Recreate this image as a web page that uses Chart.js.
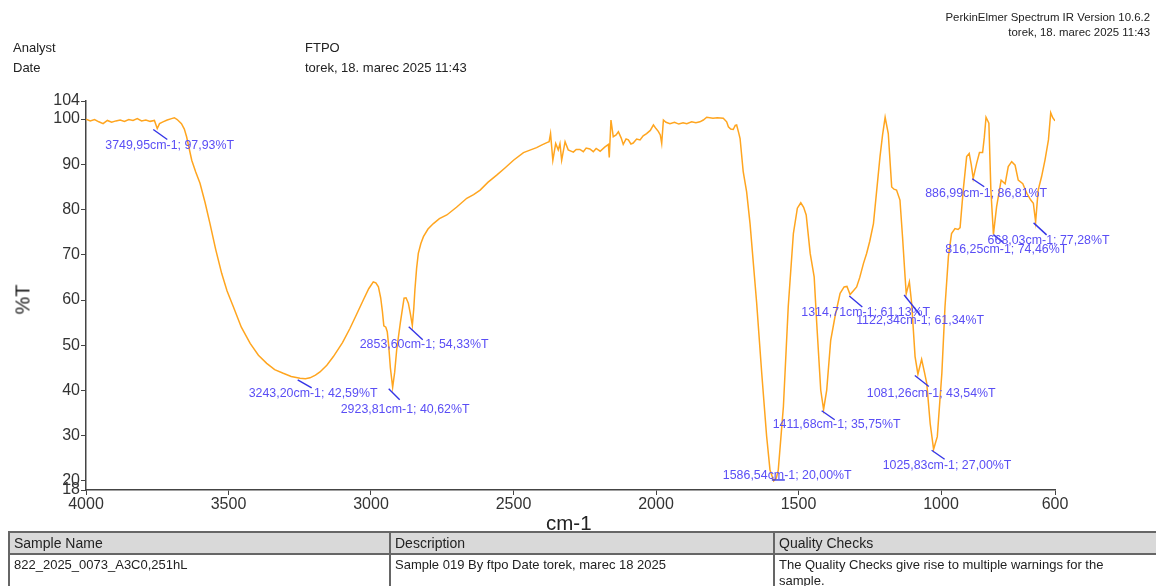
<!DOCTYPE html>
<html>
<head>
<meta charset="utf-8">
<script src="https://cdn.jsdelivr.net/npm/chart.js@4.4.1/dist/chart.umd.min.js"></script>
<style>
  html, body { margin: 0; padding: 0; background: #fff; }
  body { width: 1156px; height: 586px; position: relative; overflow: hidden; font-family: "Liberation Sans", Arial, sans-serif; color: #222; }
  #wrap { position: absolute; left: 0; top: 0; width: 1156px; height: 586px; }
  .t { position: absolute; white-space: nowrap; }
  table { position: absolute; left: 8px; top: 531px; width: 1150px; border-collapse: collapse; font-size: 13px; }
  td { border: 2px solid #666; padding: 0 4px; vertical-align: top; }
  tr.h td { background: #d9d9d9; height: 20px; line-height: 20px; font-size: 14px; }
  tr.r td { height: 29px; line-height: 16px; padding-top: 2px; }
</style>
</head>
<body>
<div id="wrap"><canvas id="c" width="1156" height="586"></canvas></div>
<div class="t" style="right:6px;top:10px;font-size:11.4px;text-align:right;line-height:15px;">PerkinElmer Spectrum IR Version 10.6.2<br>torek, 18. marec 2025 11:43</div>
<div class="t" style="left:13px;top:40px;font-size:13px;">Analyst</div>
<div class="t" style="left:13px;top:60px;font-size:13px;">Date</div>
<div class="t" style="left:305px;top:40px;font-size:13px;">FTPO</div>
<div class="t" style="left:305px;top:60px;font-size:13px;">torek, 18. marec 2025 11:43</div>
<div class="t" style="left:8px;top:288px;font-size:20px;transform:rotate(-90deg);transform-origin:center;width:30px;text-align:center;">%T</div>
<div class="t" style="left:546px;top:511px;font-size:20.5px;">cm-1</div>
<table>
  <tr class="h"><td style="width:371px">Sample Name</td><td style="width:374px">Description</td><td>Quality Checks</td></tr>
  <tr class="r"><td>822_2025_0073_A3C0,251hL</td><td>Sample 019 By ftpo Date torek, marec 18 2025</td><td>The Quality Checks give rise to multiple warnings for the sample.</td></tr>
</table>
<script>
// ---- data ----
const wavenumbers = [4000,3985,3970,3955,3940,3925,3910,3895,3880,3865,3850,3835,3820,3805,3790,3775,3760,3750,3742,3730,3715,3700,3690,3680,3665,3655,3647,3638,3629,3615,3600,3582,3565,3545,3524,3505,3483,3455,3424,3395,3366,3338,3308,3280,3249,3230,3214,3195,3179,3155,3132,3100,3074,3050,3027,3008,2992,2983,2974,2966,2960,2955,2948,2943,2938,2932,2924,2917,2910,2897,2884,2877,2869,2862,2855,2850,2846,2840,2834,2825,2816,2800,2781,2760,2734,2700,2664,2640,2617,2590,2559,2530,2500,2465,2440,2419,2400,2383,2375,2370,2362,2352,2343,2337,2331,2319,2308,2290,2280,2267,2255,2245,2232,2220,2210,2196,2180,2167,2164,2158,2150,2140,2132,2122,2115,2105,2097,2088,2080,2068,2056,2045,2033,2020,2009,2000,1992,1985,1980,1974,1965,1951,1935,1920,1905,1892,1875,1860,1846,1834,1822,1800,1785,1764,1752,1746,1738,1729,1722,1717,1710,1705,1694,1682,1670,1647,1629,1612,1600,1587,1578,1571,1553,1536,1518,1504,1492,1482,1473,1459,1445,1436,1422,1412,1401,1387,1372,1354,1340,1330,1319,1308,1296,1285,1272,1261,1250,1237,1214,1205,1196,1185,1173,1165,1156,1144,1135,1126,1122,1111,1103,1091,1081,1068,1058,1050,1038,1026,1013,997,986,974,963,951,940,933,922,910,901,894,887,875,865,854,848,842,832,825,816,805,789,775,764,752,740,729,713,699,685,676,668,659,647,635,623,615,608,600];
const transmittance = [100.0,99.6,99.9,99.4,99.0,99.7,99.3,99.6,99.8,99.5,99.9,99.7,100.1,99.6,99.8,99.5,99.7,97.9,99.0,99.4,99.8,100.1,100.3,99.9,99.0,97.8,96.1,93.5,90.9,88.3,85.8,81.5,76.9,71.2,65.9,62.0,58.5,54.0,50.4,47.8,46.0,44.6,43.8,43.1,42.7,42.6,42.8,43.4,44.1,45.6,47.5,50.6,53.7,56.9,60.0,62.5,64.0,63.8,62.9,60.5,57.5,54.3,54.0,53.0,50.0,45.0,40.7,44.0,48.9,55.0,60.4,60.5,59.3,57.0,54.4,58.0,62.2,67.0,70.3,72.5,74.0,75.7,76.9,78.0,78.8,80.5,82.5,83.3,84.3,86.0,87.6,89.2,90.9,92.6,93.2,93.7,94.3,94.8,95.0,96.8,90.9,94.6,93.2,94.6,90.9,95.0,93.2,92.7,93.3,93.3,92.8,93.6,93.4,92.8,93.5,92.9,93.8,94.4,91.5,99.8,96.1,96.5,97.2,95.8,94.4,95.6,95.4,94.5,94.7,95.6,95.4,96.3,96.8,97.5,98.7,97.9,97.3,96.5,94.6,99.8,99.3,99.0,99.3,98.9,99.2,99.0,99.4,99.2,99.4,99.8,100.4,100.2,100.3,100.2,99.4,98.3,97.8,97.7,98.6,98.7,97.0,95.7,88.4,83.9,76.9,59.5,43.8,30.0,22.4,20.0,20.6,22.4,36.4,58.5,74.7,80.3,81.5,80.5,78.8,70.3,65.1,54.8,40.1,35.8,40.1,51.1,56.3,61.5,62.9,63.0,61.2,62.0,62.9,65.0,68.1,70.3,73.0,76.9,91.7,96.5,100.4,96.8,85.0,84.5,84.3,82.1,74.0,65.1,61.4,64.0,59.3,47.5,43.6,46.9,44.0,41.6,32.7,27.0,29.8,43.8,58.5,69.6,74.7,75.8,75.6,76.0,84.3,91.7,92.4,90.0,86.9,90.2,92.6,92.6,96.0,100.4,99.1,84.3,74.5,80.6,86.5,85.7,89.5,90.6,89.8,86.5,85.7,83.6,82.1,81.4,77.3,84.3,87.3,91.0,95.4,101.4,100.3,99.6];
const xTicks = [4000,3500,3000,2500,2000,1500,1000,600];
const yTicks = [18,20,30,40,50,60,70,80,90,100,104];
const peakWn = [3749.95,3243.20,2923.81,2853.60,1586.54,1411.68,1314.71,1122.34,1081.26,1025.83,886.99,816.25,668.03];
const peakT  = [97.93,42.59,40.62,54.33,20.00,35.75,61.13,61.34,43.54,27.00,86.81,74.46,77.28];
const peakLabels = ["3749,95cm-1; 97,93%T","3243,20cm-1; 42,59%T","2923,81cm-1; 40,62%T","2853,60cm-1; 54,33%T","1586,54cm-1; 20,00%T","1411,68cm-1; 35,75%T","1314,71cm-1; 61,13%T","1122,34cm-1; 61,34%T","1081,26cm-1; 43,54%T","1025,83cm-1; 27,00%T","886,99cm-1; 86,81%T","816,25cm-1; 74,46%T","668,03cm-1; 77,28%T"];

// ---- label layout (pixel offsets from each peak: line start, line end, text left/centre) ----
const labelLayout = [
  [-4,1,10,11,-52,17],[-4,1,10,9,-53,15],[-4,1,7,12,-52,22],[-4,1,10,14,-53,19],
  [-2,-1,11,-1,-51,-5],[-2,1,11,10,-51,15],[-2,1,11,12,-50,18],[-2,1,14,21,-50,27],
  [-3,1,11,12,-51,19],[-2,1,11,10,-51,16],[-1,0,11,8,-48,15],[0,0,10,8,-48,15],[-2,1,11,13,-48,19]
];

const peakPlugin = {
  id: 'peaks',
  afterDatasetsDraw(chart) {
    const ctx = chart.ctx, xs = chart.scales.x, ys = chart.scales.y;
    ctx.save();
    ctx.font = '12.4px "Liberation Sans", Arial, sans-serif';
    ctx.textBaseline = 'middle';
    peakWn.forEach((wn, i) => {
      const px = xs.getPixelForValue(wn), py = ys.getPixelForValue(peakT[i]);
      const L = labelLayout[i];
      ctx.strokeStyle = '#3535e6';
      ctx.lineWidth = 1.4;
      ctx.beginPath();
      ctx.moveTo(px + L[0], py + L[1]);
      ctx.lineTo(px + L[2], py + L[3]);
      ctx.stroke();
      ctx.fillStyle = '#5a4ef5';
      ctx.fillText(peakLabels[i], px + L[4], py + L[5]);
    });
    ctx.restore();
  }
};

new Chart(document.getElementById('c'), {
  type: 'line',
  data: {
    datasets: [{
      data: wavenumbers.map((w, i) => ({ x: w, y: transmittance[i] })),
      borderColor: '#ffa51f',
      borderWidth: 1.5,
      pointRadius: 0,
      tension: 0,
      fill: false
    }]
  },
  options: {
    responsive: false,
    animation: false,
    events: [],
    layout: { padding: { left: 0, right: 101, top: 101, bottom: 66 } },
    plugins: { legend: { display: false }, tooltip: { enabled: false } },
    scales: {
      x: {
        type: 'linear', reverse: true, min: 600, max: 4000,
        afterBuildTicks: s => { s.ticks = xTicks.map(v => ({ value: v })); },
        afterFit: s => { s.height = 30; },
        grid: { drawOnChartArea: false, drawTicks: true, tickLength: 5, color: '#444' },
        border: { display: true, color: '#444', width: 1.5 },
        ticks: { autoSkip: false, maxRotation: 0, padding: 0, color: '#333', font: { family: '"Liberation Sans", Arial, sans-serif', size: 16 }, callback: v => String(v) }
      },
      y: {
        type: 'linear', min: 18, max: 104,
        afterBuildTicks: s => { s.ticks = yTicks.map(v => ({ value: v })); },
        afterFit: s => { s.width = 86; },
        grid: { drawOnChartArea: false, drawTicks: true, tickLength: 5, color: '#444' },
        border: { display: true, color: '#444', width: 1.5 },
        ticks: { autoSkip: false, padding: 1, color: '#333', font: { family: '"Liberation Sans", Arial, sans-serif', size: 16 }, callback: v => String(v) }
      }
    }
  },
  plugins: [peakPlugin]
});
</script>
</body>
</html>
